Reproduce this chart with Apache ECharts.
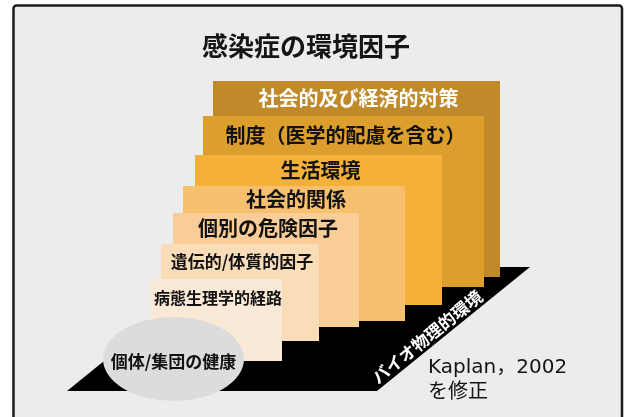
<!DOCTYPE html>
<html>
<head>
<meta charset="utf-8">
<script src="https://cdn.jsdelivr.net/npm/echarts@6/dist/echarts.min.js"></script>
<style>
html,body{margin:0;padding:0;background:#ffffff;}
#chart{width:626px;height:417px;}
</style>
</head>
<body>
<div id="chart"></div>
<script>
// ---- diagram content (diagram units) ----
const chartTitle = '感染症の環境因子';
const noteText = ['Kaplan，2002', 'を修正'];
const floorLabel = 'バイオ物理的環境';
const healthLabel = '個体/集団の健康';
const healthCenter = [173.5, 359];

// layers from back (top) to front (bottom)
const layerNames = [
  '社会的及び経済的対策',
  '制度（医学的配慮を含む）',
  '生活環境',
  '社会的関係',
  '個別の危険因子',
  '遺伝的/体質的因子',
  '病態生理学的経路'
];
const layerLeft  = [213, 203, 195, 183, 173, 161, 150];
const layerRight = [500, 484, 442, 405, 359, 319, 282];
const layerTop   = [81, 116, 155, 186, 213, 244, 279];
const layerBase  = [277, 287, 305, 321, 327, 341, 361];

// floor parallelogram corners: bottom-left, bottom-right, top-right, top-left
const floorX = [67, 377, 530, 220];
const floorY = [391, 391, 267, 267];

// ---- styles ----
const layerColors = ['#c08a2a', '#dc9e2c', '#f5b03a', '#f7c06f', '#f8cd98', '#f9dcb8', '#fae9d7'];
const layerFont = [20, 20, 20, 20, 20, 17, 16];
const FONT = "'Noto Sans CJK JP', 'Noto Sans', sans-serif";

const chart = echarts.init(document.getElementById('chart'));

const option = {
  animation: false,
  backgroundColor: '#ffffff',
  graphic: [{
    type: 'rect', z: -10, silent: true,
    shape: { x: 13.5, y: 5.5, width: 608.5, height: 440, r: 3 },
    style: { fill: '#ececec', stroke: '#1c1c1c', lineWidth: 2.5 }
  }],
  title: [
    {
      text: chartTitle, left: 202, top: 33, padding: 0,
      textStyle: { fontFamily: FONT, fontSize: 26, fontWeight: 'bold', color: '#151515' }
    },
    {
      text: noteText.join('\n'), left: 428, top: 355, padding: 0,
      textStyle: { fontFamily: "'DejaVu Sans', 'Noto Sans CJK JP', sans-serif", fontSize: 20, fontWeight: 'normal', color: '#151515', lineHeight: 25 }
    }
  ],
  grid: { left: 0, right: 0, top: 0, bottom: 0 },
  xAxis: { type: 'value', min: 0, max: 626, show: false },
  yAxis: { type: 'value', min: 0, max: 417, inverse: true, show: false },
  series: [
    {
      type: 'custom', z: 1, silent: true,
      data: [floorX.map((x, i) => [x, floorY[i]])],
      renderItem: function (params, api) {
        const pts = floorX.map((x, i) => api.coord([x, floorY[i]]));
        const p1 = pts[1], p2 = pts[2];
        const dx = p2[0] - p1[0], dy = p2[1] - p1[1];
        const L = Math.sqrt(dx * dx + dy * dy);
        const ux = dx / L, uy = dy / L;
        const nx = uy, ny = -ux;
        const t = 0.37 * L;
        const cx = p1[0] + ux * t + nx * 10.5;
        const cy = p1[1] + uy * t + ny * 10.5;
        return {
          type: 'group',
          children: [
            { type: 'polygon', shape: { points: pts }, style: { fill: '#000000' } },
            {
              type: 'text', x: cx, y: cy, rotation: Math.atan2(-dy, dx),
              style: { text: floorLabel, x: 0, y: 0, align: 'center', verticalAlign: 'middle',
                fill: '#ffffff', fontSize: 17, fontFamily: FONT, fontWeight: 'bold' }
            }
          ]
        };
      }
    },
    {
      type: 'custom', z: 2, silent: true,
      data: layerNames.map((n, i) => [layerLeft[i], layerRight[i], layerTop[i], layerBase[i]]),
      renderItem: function (params, api) {
        const i = params.dataIndex;
        const a = api.coord([api.value(0), api.value(2)]);
        const b = api.coord([api.value(1), api.value(3)]);
        const nextTop = i + 1 < layerTop.length ? layerTop[i + 1] : layerTop[i] + 38;
        const c = api.coord([(api.value(0) + api.value(1)) / 2 + 2, (api.value(2) + nextTop) / 2]);
        const first = i === 0;
        return {
          type: 'group',
          children: [
            { type: 'rect', shape: { x: a[0], y: a[1], width: b[0] - a[0], height: b[1] - a[1] },
              style: { fill: layerColors[i] } },
            { type: 'text', x: c[0], y: c[1],
              style: { text: layerNames[i], x: 0, y: 0, align: 'center', verticalAlign: 'middle',
                fill: first ? '#ffffff' : '#111111',
                fontSize: layerFont[i], fontFamily: FONT, fontWeight: 'bold',
                textShadowColor: first ? 'rgba(0,0,0,0.75)' : 'rgba(255,255,255,0.6)',
                textShadowOffsetX: 1, textShadowOffsetY: 1, textShadowBlur: 0 } }
          ]
        };
      }
    },
    {
      type: 'scatter', z: 3, silent: true,
      symbol: 'circle', symbolSize: [141, 84],
      itemStyle: { color: '#dcdcdc', opacity: 1 },
      label: { show: true, position: 'inside', formatter: healthLabel, color: '#111111',
        fontSize: 17, fontFamily: FONT, fontWeight: 'bold', offset: [0, 3] },
      data: [healthCenter]
    }
  ]
};
chart.setOption(option);
</script>
</body>
</html>
